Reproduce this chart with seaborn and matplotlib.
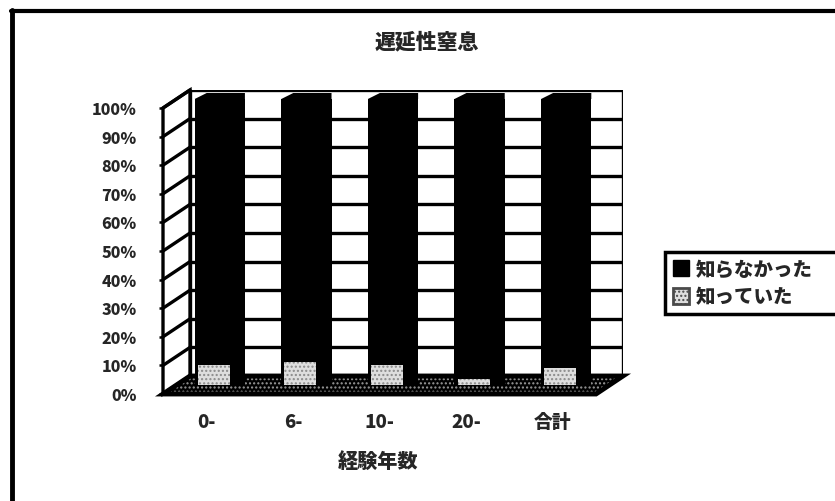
import matplotlib
matplotlib.use("Agg")
import matplotlib.pyplot as plt
from matplotlib.patches import Polygon, Rectangle
from matplotlib.lines import Line2D
import pandas as pd
import seaborn as sns

# ---- data -------------------------------------------------------------
title = "遅延性窒息"
x_label = "経験年数"
categories = ["0-", "6-", "10-", "20-", "合計"]
knew = [7, 8, 7, 2, 6]                 # 知っていた (%)
did_not_know = [93, 92, 93, 98, 94]    # 知らなかった (%)
series_names = ["知らなかった", "知っていた"]
y_ticks = list(range(0, 101, 10))

# ---- style ------------------------------------------------------------
sns.set_style("white")
plt.rcParams["font.family"] = ["Noto Sans CJK JP", "DejaVu Sans"]
plt.rcParams["font.weight"] = "bold"
plt.rcParams["hatch.linewidth"] = 1.0
HEAVY = "heavy"

W, H = 835, 502
fig = plt.figure(figsize=(W / 100, H / 100), dpi=100)


def box(left, top, right, bottom):
    """Axes rectangle from pixel edges measured from the top-left corner."""
    return [left / W, 1 - bottom / H, (right - left) / W, (bottom - top) / H]


DX, DY = 27, 18                       # depth of the 3-D box in pixels
BACK = (190, 91, 623, 377)            # back wall (left, top, right, bottom)
FRONT = (BACK[0] - DX, BACK[1] + DY, BACK[2] - DX, BACK[3] + DY)
MID = (BACK[0] - DX / 2, BACK[1] + DY / 2, BACK[2] - DX / 2, BACK[3] + DY / 2)
n = len(categories)

# back wall with horizontal gridlines
ax_back = fig.add_axes(box(*BACK), zorder=0)
ax_back.set_xlim(-0.5, n - 0.5)
ax_back.set_ylim(0, 100)
ax_back.axis("off")
for v in y_ticks:
    ax_back.axhline(v, color="black", lw=2.4)
ax_back.axvline(-0.5, color="black", lw=2.4)
ax_back.axvline(n - 0.5, color="black", lw=2.4)

# overlay in pixel coordinates for the side wall and the floor
ax_px = fig.add_axes([0, 0, 1, 1], zorder=1)
ax_px.set_xlim(0, W)
ax_px.set_ylim(H, 0)
ax_px.axis("off")
ax_px.patch.set_alpha(0)


def to_px(ax, x, y):
    dx, dy = ax.transData.transform((x, y))
    return dx, H - dy


# left side wall
bl = to_px(ax_back, -0.5, 0)
tl = to_px(ax_back, -0.5, 100)
ax_px.add_patch(Polygon([bl, tl, (tl[0] - DX, tl[1] + DY), (bl[0] - DX, bl[1] + DY)],
                        closed=True, facecolor="white", edgecolor="black", lw=2.4))
for v in y_ticks:
    bx, by = to_px(ax_back, -0.5, v)
    ax_px.add_line(Line2D([bx, bx - DX], [by, by + DY], color="black", lw=2.4))

# floor
br = to_px(ax_back, n - 0.5, 0)
floor = [bl, br, (br[0] - DX, br[1] + DY), (bl[0] - DX, bl[1] + DY)]
ax_px.add_patch(Polygon(floor, closed=True, facecolor="black",
                        edgecolor="#9a9a9a", hatch="....", lw=0))
ax_px.add_patch(Polygon(floor, closed=True, facecolor="none",
                        edgecolor="black", lw=3.5))

# outer chart frame (open to the right and bottom)
ax_px.add_line(Line2D([12, 12], [11, H], color="black", lw=3.5))
ax_px.add_line(Line2D([11, W], [12, 12], color="black", lw=3))

# ---- bars -------------------------------------------------------------
df = pd.DataFrame({
    "cat": categories,
    "total": [a + b for a, b in zip(did_not_know, knew)],
    "knew": knew,
})

ax_bar = fig.add_axes(box(*MID), zorder=2)
ax_bar.patch.set_alpha(0)
sns.barplot(data=df, x="cat", y="total", color="black", saturation=1,
            width=0.58, linewidth=0, edgecolor="black", ax=ax_bar)
n_black = len(ax_bar.patches)
sns.barplot(data=df, x="cat", y="knew", color="#dedede", saturation=1,
            width=0.37, ax=ax_bar)
ax_bar.set_xlim(-0.5, n - 0.5)
ax_bar.set_ylim(0, 100)
ax_bar.axis("off")

unit_x = (MID[2] - MID[0]) / n        # pixels per category
unit_y = (MID[3] - MID[1]) / 100      # pixels per percent
for p in ax_bar.patches[:n_black]:
    p.set_linewidth(0)
    x0, w, h = p.get_x(), p.get_width(), p.get_height()
    bx, by = 12 / unit_x, 6 / unit_y
    ax_bar.add_patch(Polygon([(x0, h), (x0 + bx, h + by), (x0 + w, h + by), (x0 + w, h)],
                             closed=True, facecolor="black", edgecolor="none",
                             clip_on=False))
for p in ax_bar.patches[n_black:n_black + n]:
    p.set_x(p.get_x() - 6 / unit_x)
    p.set_hatch("....")
    p.set_edgecolor("#8a8a8a")
    p.set_linewidth(0)

# ---- front plane: tick labels -----------------------------------------
ax_front = fig.add_axes(box(*FRONT), zorder=3)
ax_front.patch.set_alpha(0)
ax_front.set_xlim(-0.5, n - 0.5)
ax_front.set_ylim(0, 100)
for s in ax_front.spines.values():
    s.set_visible(False)
ax_front.set_yticks(y_ticks)
ax_front.set_yticklabels([f"{v}%" for v in y_ticks])
ax_front.set_xticks(range(n))
ax_front.set_xticklabels(categories)
ax_front.tick_params(axis="y", length=3, width=1.8, pad=16, labelsize=11.5,
                     color="black", left=True)
ax_front.tick_params(axis="x", length=0, pad=13, labelsize=13.5)
for t in ax_front.get_yticklabels() + ax_front.get_xticklabels():
    t.set_fontweight(HEAVY)

# ---- titles -----------------------------------------------------------
fig.text(427 / W, 1 - 42 / H, title, ha="center", va="center",
         fontsize=15, fontweight=HEAVY)
fig.text(378 / W, 1 - 462 / H, x_label, ha="center", va="center",
         fontsize=14.5, fontweight=HEAVY)

# ---- legend -----------------------------------------------------------
handles = [
    Rectangle((0, 0), 1, 1, facecolor="black", edgecolor="black"),
    Rectangle((0, 0), 1, 1, facecolor="#dedede", edgecolor="#4a4a4a",
              hatch="....", lw=2),
]
leg = fig.legend(handles, series_names, loc="upper left",
                 bbox_to_anchor=(665 / W, 1 - 318 / H, 200 / W, 65 / H),
                 mode="expand", fontsize=14, frameon=True, fancybox=False,
                 framealpha=1, handlelength=0.85, handleheight=0.85,
                 handletextpad=0.35, borderpad=0.4, labelspacing=0.45,
                 borderaxespad=0)
leg.get_frame().set_edgecolor("black")
leg.get_frame().set_linewidth(2.5)
for t in leg.get_texts():
    t.set_fontweight(HEAVY)

fig.savefig("out.png", dpi=100)
